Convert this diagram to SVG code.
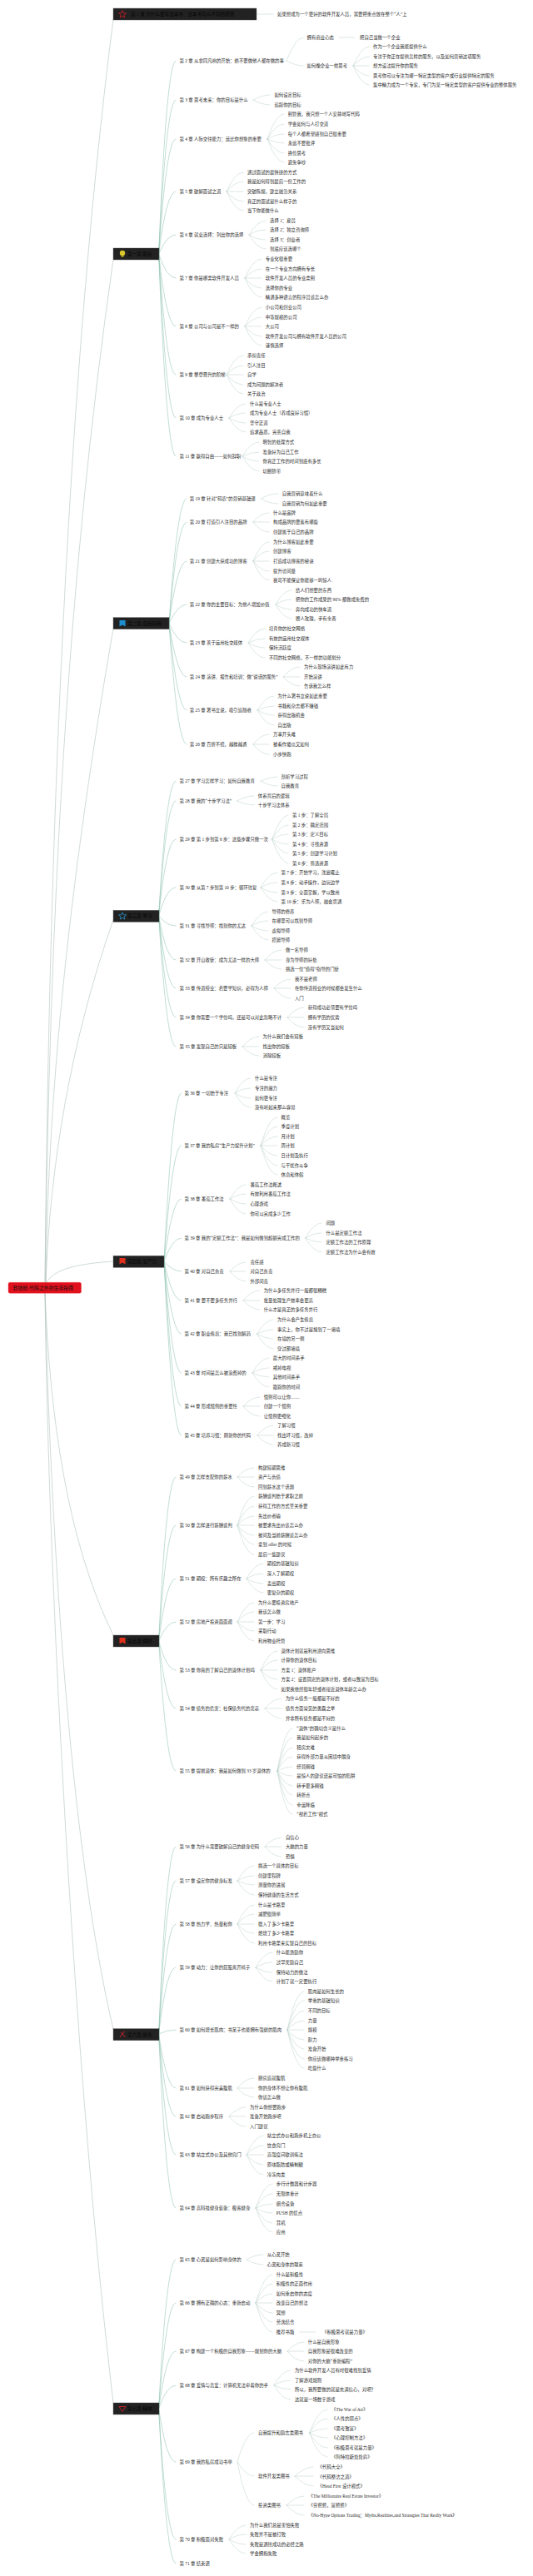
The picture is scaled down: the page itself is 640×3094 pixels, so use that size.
<svg xmlns="http://www.w3.org/2000/svg" width="640" height="3094" viewBox="0 0 640 3094">
<style>
text{font-family:"Liberation Serif","Noto Sans CJK SC",sans-serif;font-size:5.4px;fill:#2a2a2a;dominant-baseline:central}
.l0,.l1,.l2,.l3{fill:none;stroke-linecap:round}
.l0{stroke:#a9bdb8;stroke-width:.55}
.l1{stroke:#8fc2b3;stroke-width:.55}
.l2{stroke:#b4cbc5;stroke-width:.45}
.box{fill:#222;stroke:#555;stroke-width:.4}
.bt{fill:#050505;font-size:5.6px}
.root{fill:#e0101c;stroke:#f04050;stroke-width:.4}
.rt{fill:#111;font-size:5.9px}
</style>
<g id="connectors">
<path class="l0" d="M54 1540C58 1100 75 500 136 23"/>
<path class="l0" d="M54 1540C60 1100 80 700 136 312"/>
<path class="l0" d="M55 1540C58 1300 85 1050 136 755"/>
<path class="l0" d="M55 1540C60 1400 85 1250 136 1105"/>
<path class="l0" d="M56 1540C65 1525 90 1518 136 1515"/>
<path class="l0" d="M54 1553C60 1700 80 1850 136 1964"/>
<path class="l0" d="M54 1553C60 1800 80 2200 136 2437"/>
<path class="l0" d="M54 1553C58 1900 90 2500 136 2886"/>
<path class="l2" d="M308 17H328"/>
<path class="l1" d="M190.600 305Q200 73 211 73"/><path class="l1" d="M190.600 305Q200 120 211 120"/><path class="l1" d="M190.600 305Q200 167 211 167"/><path class="l1" d="M190.600 305Q200 230 211 230"/><path class="l1" d="M190.600 305Q200 282 211 282"/><path class="l1" d="M190.600 305Q200 334 211 334"/><path class="l1" d="M190.600 305Q200 392 211 392"/><path class="l1" d="M190.600 305Q200 450 211 450"/><path class="l1" d="M190.600 305Q200 502 211 502"/><path class="l1" d="M190.600 305Q200 548 211 548"/>
<path class="l2" d="M344 73Q355 45 364 45"/><path class="l2" d="M344 73Q355 79 364 79"/><path class="l2" d="M407 45H426"/>
<path class="l2" d="M424 79Q434 56 443 56"/><path class="l2" d="M424 79Q434 68 443 68"/><path class="l2" d="M424 79H443"/><path class="l2" d="M424 79Q434 91 443 91"/><path class="l2" d="M424 79Q434 102 443 102"/>
<path class="l2" d="M304 120Q315 114 324 114"/><path class="l2" d="M304 120Q315 126 324 126"/>
<path class="l2" d="M321 167Q331 137 341 137"/><path class="l2" d="M321 167Q331 149 341 149"/><path class="l2" d="M321 167Q331 161 341 161"/><path class="l2" d="M321 167Q331 172 341 172"/><path class="l2" d="M321 167Q331 184 341 184"/><path class="l2" d="M321 167Q331 195 341 195"/>
<path class="l2" d="M272 230Q282 207 292 207"/><path class="l2" d="M272 230Q282 218 292 218"/><path class="l2" d="M272 230H292"/><path class="l2" d="M272 230Q282 242 292 242"/><path class="l2" d="M272 230Q282 253 292 253"/>
<path class="l2" d="M299 282Q309 265 319 265"/><path class="l2" d="M299 282Q309 276 319 276"/><path class="l2" d="M299 282Q309 288 319 288"/><path class="l2" d="M299 282Q309 299 319 299"/>
<path class="l2" d="M294 334Q304 311 314 311"/><path class="l2" d="M294 334Q304 323 314 323"/><path class="l2" d="M294 334H314"/><path class="l2" d="M294 334Q304 346 314 346"/><path class="l2" d="M294 334Q304 357 314 357"/>
<path class="l2" d="M294 392Q304 369 314 369"/><path class="l2" d="M294 392Q304 381 314 381"/><path class="l2" d="M294 392H314"/><path class="l2" d="M294 392Q304 404 314 404"/><path class="l2" d="M294 392Q304 415 314 415"/>
<path class="l2" d="M272 450Q282 427 292 427"/><path class="l2" d="M272 450Q282 439 292 439"/><path class="l2" d="M272 450H292"/><path class="l2" d="M272 450Q282 462 292 462"/><path class="l2" d="M272 450Q282 473 292 473"/>
<path class="l2" d="M275 502Q285 485 295 485"/><path class="l2" d="M275 502Q285 496 295 496"/><path class="l2" d="M275 502Q285 508 295 508"/><path class="l2" d="M275 502Q285 519 295 519"/>
<path class="l2" d="M291 548Q301 531 311 531"/><path class="l2" d="M291 548Q301 543 311 543"/><path class="l2" d="M291 548Q301 554 311 554"/><path class="l2" d="M291 548Q301 566 311 566"/>
<path class="l1" d="M203 749Q213 599 224 599"/><path class="l1" d="M203 749Q213 627 224 627"/><path class="l1" d="M203 749Q213 674 224 674"/><path class="l1" d="M203 749Q213 726 224 726"/><path class="l1" d="M203 749Q213 772 224 772"/><path class="l1" d="M203 749Q213 813 224 813"/><path class="l1" d="M203 749Q213 853 224 853"/><path class="l1" d="M203 749Q213 894 224 894"/>
<path class="l2" d="M313.500 599Q323 593 334 593"/><path class="l2" d="M313.500 599Q323 605 334 605"/>
<path class="l2" d="M304 627Q313 616 323 616"/><path class="l2" d="M304 627H323"/><path class="l2" d="M304 627Q313 639 323 639"/>
<path class="l2" d="M304 674Q313 651 323 651"/><path class="l2" d="M304 674Q313 662 323 662"/><path class="l2" d="M304 674H323"/><path class="l2" d="M304 674Q313 686 323 686"/><path class="l2" d="M304 674Q313 697 323 697"/>
<path class="l2" d="M331 726Q340 709 350 709"/><path class="l2" d="M331 726Q340 720 350 720"/><path class="l2" d="M331 726Q340 732 350 732"/><path class="l2" d="M331 726Q340 743 350 743"/>
<path class="l2" d="M298 772Q308 755 318 755"/><path class="l2" d="M298 772Q308 767 318 767"/><path class="l2" d="M298 772Q308 778 318 778"/><path class="l2" d="M298 772Q308 790 318 790"/>
<path class="l2" d="M340 813Q350 801 360 801"/><path class="l2" d="M340 813H360"/><path class="l2" d="M340 813Q350 824 360 824"/>
<path class="l2" d="M309 853Q319 836 329 836"/><path class="l2" d="M309 853Q319 848 329 848"/><path class="l2" d="M309 853Q319 859 329 859"/><path class="l2" d="M309 853Q319 871 329 871"/>
<path class="l2" d="M304 894Q313 882 323 882"/><path class="l2" d="M304 894H323"/><path class="l2" d="M304 894Q313 906 323 906"/>
<path class="l1" d="M190.600 1100Q200 938 211 938"/><path class="l1" d="M190.600 1100Q200 962 211 962"/><path class="l1" d="M190.600 1100Q200 1008 211 1008"/><path class="l1" d="M190.600 1100Q200 1066 211 1066"/><path class="l1" d="M190.600 1100Q200 1112 211 1112"/><path class="l1" d="M190.600 1100Q200 1153 211 1153"/><path class="l1" d="M190.600 1100Q200 1187 211 1187"/><path class="l1" d="M190.600 1100Q200 1222 211 1222"/><path class="l1" d="M190.600 1100Q200 1257 211 1257"/>
<path class="l2" d="M313 938Q323 933 333 933"/><path class="l2" d="M313 938Q323 944 333 944"/>
<path class="l2" d="M284.500 962Q295 956 305 956"/><path class="l2" d="M284.500 962Q295 967 305 967"/>
<path class="l2" d="M326.500 1008Q337 979 346 979"/><path class="l2" d="M326.500 1008Q337 991 346 991"/><path class="l2" d="M326.500 1008Q337 1002 346 1002"/><path class="l2" d="M326.500 1008Q337 1014 346 1014"/><path class="l2" d="M326.500 1008Q337 1025 346 1025"/><path class="l2" d="M326.500 1008Q337 1037 346 1037"/>
<path class="l2" d="M313 1066Q323 1048 333 1048"/><path class="l2" d="M313 1066Q323 1060 333 1060"/><path class="l2" d="M313 1066Q323 1072 333 1072"/><path class="l2" d="M313 1066Q323 1083 333 1083"/>
<path class="l2" d="M302 1112Q312 1095 322 1095"/><path class="l2" d="M302 1112Q312 1106 322 1106"/><path class="l2" d="M302 1112Q312 1118 322 1118"/><path class="l2" d="M302 1112Q312 1129 322 1129"/>
<path class="l2" d="M318 1153Q328 1141 338 1141"/><path class="l2" d="M318 1153H338"/><path class="l2" d="M318 1153Q328 1164 338 1164"/>
<path class="l2" d="M329 1187Q339 1176 349 1176"/><path class="l2" d="M329 1187H349"/><path class="l2" d="M329 1187Q339 1199 349 1199"/>
<path class="l2" d="M345 1222Q355 1210 365 1210"/><path class="l2" d="M345 1222H365"/><path class="l2" d="M345 1222Q355 1234 365 1234"/>
<path class="l2" d="M291 1257Q301 1245 311 1245"/><path class="l2" d="M291 1257H311"/><path class="l2" d="M291 1257Q301 1268 311 1268"/>
<path class="l1" d="M197 1515Q207 1313 217.500 1313"/><path class="l1" d="M197 1515Q207 1376 217.500 1376"/><path class="l1" d="M197 1515Q207 1440 217.500 1440"/><path class="l1" d="M197 1515Q207 1487 217.500 1487"/><path class="l1" d="M197 1515Q207 1527 217.500 1527"/><path class="l1" d="M197 1515Q207 1562 217.500 1562"/><path class="l1" d="M197 1515Q207 1602 217.500 1602"/><path class="l1" d="M197 1515Q207 1649 217.500 1649"/><path class="l1" d="M197 1515Q207 1689 217.500 1689"/><path class="l1" d="M197 1515Q207 1724 217.500 1724"/>
<path class="l2" d="M282 1313Q291 1295 301 1295"/><path class="l2" d="M282 1313Q291 1307 301 1307"/><path class="l2" d="M282 1313Q291 1319 301 1319"/><path class="l2" d="M282 1313Q291 1330 301 1330"/>
<path class="l2" d="M313 1376Q323 1342 333 1342"/><path class="l2" d="M313 1376Q323 1353 333 1353"/><path class="l2" d="M313 1376Q323 1365 333 1365"/><path class="l2" d="M313 1376H333"/><path class="l2" d="M313 1376Q323 1388 333 1388"/><path class="l2" d="M313 1376Q323 1400 333 1400"/><path class="l2" d="M313 1376Q323 1411 333 1411"/>
<path class="l2" d="M276 1440Q286 1423 295 1423"/><path class="l2" d="M276 1440Q286 1434 295 1434"/><path class="l2" d="M276 1440Q286 1446 295 1446"/><path class="l2" d="M276 1440Q286 1458 295 1458"/>
<path class="l2" d="M366.500 1487Q377 1469 386 1469"/><path class="l2" d="M366.500 1487Q377 1481 386 1481"/><path class="l2" d="M366.500 1487Q377 1492 386 1492"/><path class="l2" d="M366.500 1487Q377 1504 386 1504"/>
<path class="l2" d="M276 1527Q286 1516 295 1516"/><path class="l2" d="M276 1527H295"/><path class="l2" d="M276 1527Q286 1539 295 1539"/>
<path class="l2" d="M292 1562Q302 1550 312 1550"/><path class="l2" d="M292 1562H312"/><path class="l2" d="M292 1562Q302 1573 312 1573"/>
<path class="l2" d="M308.600 1602Q319 1585 328 1585"/><path class="l2" d="M308.600 1602Q319 1597 328 1597"/><path class="l2" d="M308.600 1602Q319 1608 328 1608"/><path class="l2" d="M308.600 1602Q319 1620 328 1620"/>
<path class="l2" d="M303 1649Q313 1631 323 1631"/><path class="l2" d="M303 1649Q313 1643 323 1643"/><path class="l2" d="M303 1649Q313 1654 323 1654"/><path class="l2" d="M303 1649Q313 1666 323 1666"/>
<path class="l2" d="M292 1689Q302 1678 312 1678"/><path class="l2" d="M292 1689H312"/><path class="l2" d="M292 1689Q302 1701 312 1701"/>
<path class="l2" d="M308.600 1724Q319 1712 328 1712"/><path class="l2" d="M308.600 1724H328"/><path class="l2" d="M308.600 1724Q319 1735 328 1735"/>
<path class="l1" d="M190.600 1971Q200 1774 211 1774"/><path class="l1" d="M190.600 1971Q200 1832 211 1832"/><path class="l1" d="M190.600 1971Q200 1896 211 1896"/><path class="l1" d="M190.600 1971Q200 1948 211 1948"/><path class="l1" d="M190.600 1971Q200 2006 211 2006"/><path class="l1" d="M190.600 1971Q200 2052 211 2052"/><path class="l1" d="M190.600 1971Q200 2127 211 2127"/>
<path class="l2" d="M285 1774Q295 1763 305 1763"/><path class="l2" d="M285 1774H305"/><path class="l2" d="M285 1774Q295 1786 305 1786"/>
<path class="l2" d="M285 1832Q295 1797 305 1797"/><path class="l2" d="M285 1832Q295 1809 305 1809"/><path class="l2" d="M285 1832Q295 1821 305 1821"/><path class="l2" d="M285 1832H305"/><path class="l2" d="M285 1832Q295 1844 305 1844"/><path class="l2" d="M285 1832Q295 1855 305 1855"/><path class="l2" d="M285 1832Q295 1867 305 1867"/>
<path class="l2" d="M296 1896Q306 1878 316 1878"/><path class="l2" d="M296 1896Q306 1890 316 1890"/><path class="l2" d="M296 1896Q306 1902 316 1902"/><path class="l2" d="M296 1896Q306 1913 316 1913"/>
<path class="l2" d="M285 1948Q295 1925 305 1925"/><path class="l2" d="M285 1948Q295 1936 305 1936"/><path class="l2" d="M285 1948H305"/><path class="l2" d="M285 1948Q295 1959 305 1959"/><path class="l2" d="M285 1948Q295 1971 305 1971"/>
<path class="l2" d="M313 2006Q323 1983 333 1983"/><path class="l2" d="M313 2006Q323 1994 333 1994"/><path class="l2" d="M313 2006H333"/><path class="l2" d="M313 2006Q323 2017 333 2017"/><path class="l2" d="M313 2006Q323 2029 333 2029"/>
<path class="l2" d="M318 2052Q328 2040 338 2040"/><path class="l2" d="M318 2052H338"/><path class="l2" d="M318 2052Q328 2064 338 2064"/>
<path class="l2" d="M333 2127Q342 2076 351 2076"/><path class="l2" d="M333 2127Q342 2087 351 2087"/><path class="l2" d="M333 2127Q342 2099 351 2099"/><path class="l2" d="M333 2127Q342 2110 351 2110"/><path class="l2" d="M333 2127Q342 2122 351 2122"/><path class="l2" d="M333 2127Q342 2133 351 2133"/><path class="l2" d="M333 2127Q342 2145 351 2145"/><path class="l2" d="M333 2127Q342 2156 351 2156"/><path class="l2" d="M333 2127Q342 2168 351 2168"/><path class="l2" d="M333 2127Q342 2179 351 2179"/>
<path class="l1" d="M190.600 2443Q200 2218 211 2218"/><path class="l1" d="M190.600 2443Q200 2259 211 2259"/><path class="l1" d="M190.600 2443Q200 2311 211 2311"/><path class="l1" d="M190.600 2443Q200 2363 211 2363"/><path class="l1" d="M190.600 2443Q200 2438 211 2438"/><path class="l1" d="M190.600 2443Q200 2508 211 2508"/><path class="l1" d="M190.600 2443Q200 2542 211 2542"/><path class="l1" d="M190.600 2443Q200 2588 211 2588"/><path class="l1" d="M190.600 2443Q200 2652 211 2652"/>
<path class="l2" d="M318 2218Q328 2207 338 2207"/><path class="l2" d="M318 2218H338"/><path class="l2" d="M318 2218Q328 2230 338 2230"/>
<path class="l2" d="M285 2259Q295 2241 305 2241"/><path class="l2" d="M285 2259Q295 2253 305 2253"/><path class="l2" d="M285 2259Q295 2264 305 2264"/><path class="l2" d="M285 2259Q295 2276 305 2276"/>
<path class="l2" d="M285 2311Q295 2288 305 2288"/><path class="l2" d="M285 2311Q295 2299 305 2299"/><path class="l2" d="M285 2311H305"/><path class="l2" d="M285 2311Q295 2322 305 2322"/><path class="l2" d="M285 2311Q295 2334 305 2334"/>
<path class="l2" d="M307 2363Q317 2345 327 2345"/><path class="l2" d="M307 2363Q317 2357 327 2357"/><path class="l2" d="M307 2363Q317 2369 327 2369"/><path class="l2" d="M307 2363Q317 2380 327 2380"/>
<path class="l2" d="M345 2438Q355 2392 365 2392"/><path class="l2" d="M345 2438Q355 2403 365 2403"/><path class="l2" d="M345 2438Q355 2415 365 2415"/><path class="l2" d="M345 2438Q355 2427 365 2427"/><path class="l2" d="M345 2438H365"/><path class="l2" d="M345 2438Q355 2450 365 2450"/><path class="l2" d="M345 2438Q355 2461 365 2461"/><path class="l2" d="M345 2438Q355 2473 365 2473"/><path class="l2" d="M345 2438Q355 2484 365 2484"/>
<path class="l2" d="M285 2508Q295 2496 305 2496"/><path class="l2" d="M285 2508H305"/><path class="l2" d="M285 2508Q295 2519 305 2519"/>
<path class="l2" d="M275 2542Q285 2531 295 2531"/><path class="l2" d="M275 2542H295"/><path class="l2" d="M275 2542Q285 2554 295 2554"/>
<path class="l2" d="M296 2588Q306 2565 316 2565"/><path class="l2" d="M296 2588Q306 2577 316 2577"/><path class="l2" d="M296 2588H316"/><path class="l2" d="M296 2588Q306 2600 316 2600"/><path class="l2" d="M296 2588Q306 2612 316 2612"/>
<path class="l2" d="M307 2652Q317 2623 327 2623"/><path class="l2" d="M307 2652Q317 2635 327 2635"/><path class="l2" d="M307 2652Q317 2647 327 2647"/><path class="l2" d="M307 2652Q317 2658 327 2658"/><path class="l2" d="M307 2652Q317 2670 327 2670"/><path class="l2" d="M307 2652Q317 2681 327 2681"/>
<path class="l1" d="M190.600 2893Q200 2714 211 2714"/><path class="l1" d="M190.600 2893Q200 2766 211 2766"/><path class="l1" d="M190.600 2893Q200 2824 211 2824"/><path class="l1" d="M190.600 2893Q200 2865 211 2865"/><path class="l1" d="M190.600 2893Q200 2957 211 2957"/><path class="l1" d="M190.600 2893Q200 3050 211 3050"/><path class="l1" d="M190.600 2893Q200 3079 211 3079"/>
<path class="l2" d="M296 2714Q306 2708 316 2708"/><path class="l2" d="M296 2714Q306 2720 316 2720"/>
<path class="l2" d="M307 2766Q317 2732 327 2732"/><path class="l2" d="M307 2766Q317 2743 327 2743"/><path class="l2" d="M307 2766Q317 2755 327 2755"/><path class="l2" d="M307 2766H327"/><path class="l2" d="M307 2766Q317 2778 327 2778"/><path class="l2" d="M307 2766Q317 2789 327 2789"/><path class="l2" d="M307 2766Q317 2801 327 2801"/><path class="l2" d="M360 2801H379"/>
<path class="l2" d="M345 2824Q355 2813 365 2813"/><path class="l2" d="M345 2824H365"/><path class="l2" d="M345 2824Q355 2836 365 2836"/>
<path class="l2" d="M329 2865Q339 2847 349 2847"/><path class="l2" d="M329 2865Q339 2859 349 2859"/><path class="l2" d="M329 2865Q339 2870 349 2870"/><path class="l2" d="M329 2865Q339 2882 349 2882"/>
<path class="l2" d="M285 2957Q295 2922 305 2922"/><path class="l2" d="M285 2957Q295 2974 305 2974"/><path class="l2" d="M285 2957Q295 3009 305 3009"/>
<path class="l2" d="M371.500 2922Q382 2894 393 2894"/><path class="l2" d="M371.500 2922Q382 2905 393 2905"/><path class="l2" d="M371.500 2922Q382 2917 393 2917"/><path class="l2" d="M371.500 2922Q382 2928 393 2928"/><path class="l2" d="M371.500 2922Q382 2940 393 2940"/><path class="l2" d="M371.500 2922Q382 2951 393 2951"/>
<path class="l2" d="M354 2974Q366 2963 376 2963"/><path class="l2" d="M354 2974H376"/><path class="l2" d="M354 2974Q366 2986 376 2986"/>
<path class="l2" d="M344 3009Q355 2998 365 2998"/><path class="l2" d="M344 3009H365"/><path class="l2" d="M344 3009Q355 3021 365 3021"/>
<path class="l2" d="M275 3050Q285 3033 295 3033"/><path class="l2" d="M275 3050Q285 3044 295 3044"/><path class="l2" d="M275 3050Q285 3056 295 3056"/><path class="l2" d="M275 3050Q285 3067 295 3067"/>
</g>
<g id="root"><rect class="root" x="10" y="1540.300" width="87.500" height="13" rx="2"/><text class="rt" x="15.500" y="1547">软技能-代码之外的生存指南</text></g>
<g id="s0"><rect class="box" x="136" y="10" width="172" height="14"/><polygon points="147,12.500 148.200,15.600 151.500,15.800 149,17.900 149.800,21 147,19.300 144.200,21 145,17.900 142.500,15.800 145.800,15.600" fill="none" stroke="#c8202a" stroke-width=".8"/><text class="bt" x="157" y="17">第 1 章 为什么要写这本书：这本书与众不同的原因</text></g>
<g id="s1"><rect class="box" x="136" y="298" width="55" height="14"/><circle cx="147" cy="304" r="3.200" fill="#d8c62a"/><rect x="145.600" y="307" width="2.800" height="1.800" fill="#b0a020"/><text class="bt" x="153" y="305">第一篇 职业</text></g>
<g id="s2"><rect class="box" x="136" y="741.700" width="67" height="14"/><path d="M143.500 745H150.500V752.500L147 750.500 143.500 752.500Z" fill="#1c8fd0"/><text class="bt" x="153" y="749">第二篇 自我营销</text></g>
<g id="s3"><rect class="box" x="136" y="1093.300" width="55" height="14"/><polygon points="147,1095.700 148.200,1098.700 151.500,1098.900 149,1101 149.800,1104.100 147,1102.400 144.200,1104.100 145,1101 142.500,1098.900 145.800,1098.700" fill="none" stroke="#2a90c8" stroke-width=".8"/><text class="bt" x="153" y="1100">第三篇 学习</text></g>
<g id="s4"><rect class="box" x="136" y="1508.300" width="61" height="14"/><path d="M143.500 1511H150.500V1518.500L147 1516.500 143.500 1518.500Z" fill="#e0301c"/><text class="bt" x="153" y="1515">第四篇 生产力</text></g>
<g id="s5"><rect class="box" x="136" y="1964" width="55" height="14"/><path d="M143.500 1967H150.500V1974.500L147 1972.500 143.500 1974.500Z" fill="#e0301c"/><text class="bt" x="153" y="1971">第五篇 理财</text></g>
<g id="s6"><rect class="box" x="136" y="2436.700" width="55" height="14"/><path d="M149.500 2439.500L144 2447M145 2440.500L150.500 2447" stroke="#c8202a" stroke-width="1" fill="none"/><text class="bt" x="153" y="2443.700">第六篇 健身</text></g>
<g id="s7"><rect class="box" x="136" y="2886" width="55" height="14"/><path d="M143 2890.500H151L147 2896.500Z" fill="none" stroke="#c8202a" stroke-width=".9"/><text class="bt" x="153" y="2893">第七篇 精神</text></g>
<g id="n1"><text x="333" y="17">如果想成为一个更好的软件开发人员，需要把重点放在整个“人”上</text></g>
<g id="c2"><text x="215.500" y="73">第 2 章 从非同凡响的开始：绝不要做他人都在做的事</text></g>
<g id="n2a"><text x="368.600" y="45">拥有商业心态</text></g><g id="n2a1"><text x="432" y="45">把自己当做一个企业</text></g>
<g id="n2b"><text x="368.600" y="79">如何像企业一样思考</text></g>
<g id="n2b1"><text x="448" y="56">作为一个企业我能提供什么</text></g><g id="n2b2"><text x="448" y="68">专注于你正在提供怎样的服务，以及如何营销这项服务</text></g><g id="n2b3"><text x="448" y="79">想方设法提升你的服务</text></g><g id="n2b4"><text x="448" y="91">思考你可以专注为哪一特定类型的客户或行业提供特定的服务</text></g><g id="n2b5"><text x="448" y="102">集中精力成为一个专家，专门为某一特定类型的客户提供专业的整体服务</text></g>
<g id="c3"><text x="215.500" y="120">第 3 章 思考未来：你的目标是什么</text></g>
<g id="n3a"><text x="329.400" y="114">如何设定目标</text></g><g id="n3b"><text x="329.400" y="126">追踪你的目标</text></g>
<g id="c4"><text x="215.500" y="167">第 4 章 人际交往能力：远比你想象的重要</text></g>
<g id="n4a"><text x="345.700" y="137">别管我，我只想一个人安静地写代码</text></g><g id="n4b"><text x="345.700" y="149">学会如何与人打交道</text></g><g id="n4c"><text x="345.700" y="161">每个人都希望感到自己很重要</text></g><g id="n4d"><text x="345.700" y="172">永远不要批评</text></g><g id="n4e"><text x="345.700" y="184">换位思考</text></g><g id="n4f"><text x="345.700" y="195">避免争吵</text></g>
<g id="c5"><text x="215.500" y="230">第 5 章 破解面试之道</text></g>
<g id="n5a"><text x="297" y="207">通过面试的最快捷的方式</text></g><g id="n5b"><text x="297" y="218">我是如何得到最后一份工作的</text></g><g id="n5c"><text x="297" y="230">突破陈规，建立融洽关系</text></g><g id="n5d"><text x="297" y="242">真正的面试是什么样子的</text></g><g id="n5e"><text x="297" y="253">当下你能做什么</text></g>
<g id="c6"><text x="215.500" y="282">第 6 章 就业选择：列出你的选择</text></g>
<g id="n6a"><text x="324" y="265">选择 1：雇员</text></g><g id="n6b"><text x="324" y="276">选择 2：独立咨询师</text></g><g id="n6c"><text x="324" y="288">选择 3：创业者</text></g><g id="n6d"><text x="324" y="299">到底应该选哪个</text></g>
<g id="c7"><text x="215.500" y="334">第 7 章 你是哪类软件开发人员</text></g>
<g id="n7a"><text x="318.800" y="311">专业化很重要</text></g><g id="n7b"><text x="318.800" y="323">在一个专业方向拥有专长</text></g><g id="n7c"><text x="318.800" y="334">软件开发人员的专业类别</text></g><g id="n7d"><text x="318.800" y="346">选择你的专业</text></g><g id="n7e"><text x="318.800" y="357">精通多种语言的程序员该怎么办</text></g>
<g id="c8"><text x="215.500" y="392">第 8 章 公司与公司是不一样的</text></g>
<g id="n8a"><text x="318.800" y="369">小公司和创业公司</text></g><g id="n8b"><text x="318.800" y="381">中等规模的公司</text></g><g id="n8c"><text x="318.800" y="392">大公司</text></g><g id="n8d"><text x="318.800" y="404">软件开发公司与拥有软件开发人员的公司</text></g><g id="n8e"><text x="318.800" y="415">谨慎选择</text></g>
<g id="c9"><text x="215.500" y="450">第 9 章 攀登晋升的阶梯</text></g>
<g id="n9a"><text x="297" y="427">承担责任</text></g><g id="n9b"><text x="297" y="439">引人注目</text></g><g id="n9c"><text x="297" y="450">自学</text></g><g id="n9d"><text x="297" y="462">成为问题的解决者</text></g><g id="n9e"><text x="297" y="473">关于政治</text></g>
<g id="c10"><text x="215.500" y="502">第 10 章 成为专业人士</text></g>
<g id="n10a"><text x="300" y="485">什么是专业人士</text></g><g id="n10b"><text x="300" y="496">成为专业人士（养成良好习惯）</text></g><g id="n10c"><text x="300" y="508">坚守正道</text></g><g id="n10d"><text x="300" y="519">追求品质，完善自我</text></g>
<g id="c11"><text x="215.500" y="548">第 11 章 赢得自由——如何辞职</text></g>
<g id="n11a"><text x="315.500" y="531">明智的处理方式</text></g><g id="n11b"><text x="315.500" y="543">准备好为自己工作</text></g><g id="n11c"><text x="315.500" y="554">你真正工作的时间到底有多长</text></g><g id="n11d"><text x="315.500" y="566">切断脐带</text></g>
<g id="c19"><text x="227.800" y="599">第 19 章 针对“码农”的营销基础课</text></g>
<g id="n19a"><text x="338.800" y="593">自我营销意味着什么</text></g><g id="n19b"><text x="338.800" y="605">自我营销为何如此重要</text></g>
<g id="c20"><text x="227.800" y="627">第 20 章 打造引人注目的品牌</text></g>
<g id="n20a"><text x="328" y="616">什么是品牌</text></g><g id="n20b"><text x="328" y="627">构成品牌的要素有哪些</text></g><g id="n20c"><text x="328" y="639">创建属于自己的品牌</text></g>
<g id="c21"><text x="227.800" y="674">第 21 章 创建大获成功的博客</text></g>
<g id="n21a"><text x="328" y="651">为什么博客如此重要</text></g><g id="n21b"><text x="328" y="662">创建博客</text></g><g id="n21c"><text x="328" y="674">打造成功博客的秘诀</text></g><g id="n21d"><text x="328" y="686">提升访问量</text></g><g id="n21e"><text x="328" y="697">我可不能保证你能够一鸣惊人</text></g>
<g id="c22"><text x="227.800" y="726">第 22 章 你的主要目标：为他人增加价值</text></g>
<g id="n22a"><text x="355" y="709">给人们想要的东西</text></g><g id="n22b"><text x="355" y="720">把你的工作成果的 90% 都做成免费的</text></g><g id="n22c"><text x="355" y="732">奔向成功的快车道</text></g><g id="n22d"><text x="355" y="743">赠人玫瑰，手有余香</text></g>
<g id="c23"><text x="227.800" y="772">第 23 章 善于运用社交媒体</text></g>
<g id="n23a"><text x="322.900" y="755">培育你的社交网络</text></g><g id="n23b"><text x="322.900" y="767">有效的运用社交媒体</text></g><g id="n23c"><text x="322.900" y="778">保持活跃度</text></g><g id="n23d"><text x="322.900" y="790">不同的社交网络，不一样的功能划分</text></g>
<g id="c24"><text x="227.800" y="813">第 24 章 演讲、报告和培训：做“说话的服务”</text></g>
<g id="n24a"><text x="365" y="801">为什么现场演讲如此有力</text></g><g id="n24b"><text x="365" y="813">开始演讲</text></g><g id="n24c"><text x="365" y="824">告诉我怎么样</text></g>
<g id="c25"><text x="227.800" y="853">第 25 章 著书立说，吸引追随者</text></g>
<g id="n25a"><text x="333.500" y="836">为什么著书立说如此重要</text></g><g id="n25b"><text x="333.500" y="848">书籍和杂志都不赚钱</text></g><g id="n25c"><text x="333.500" y="859">获得出版机会</text></g><g id="n25d"><text x="333.500" y="871">自出版</text></g>
<g id="c26"><text x="227.800" y="894">第 26 章 百折不挠，越挫越勇</text></g>
<g id="n26a"><text x="328" y="882">万事开头难</text></g><g id="n26b"><text x="328" y="894">被看作傻瓜又如何</text></g><g id="n26c"><text x="328" y="906">小步快跑</text></g>
<g id="c27"><text x="215.500" y="938">第 27 章 学习怎样学习：如何自我教育</text></g>
<g id="n27a"><text x="337.500" y="933">剖析学习过程</text></g><g id="n27b"><text x="337.500" y="944">自我教育</text></g>
<g id="c28"><text x="215.500" y="962">第 28 章 我的“十步学习法”</text></g>
<g id="n28a"><text x="309.800" y="956">体系背后的逻辑</text></g><g id="n28b"><text x="309.800" y="967">十步学习法体系</text></g>
<g id="c29"><text x="215.500" y="1008">第 29 章 第 1 步到第 6 步：这些步骤只做一次</text></g>
<g id="n29a"><text x="351" y="979">第 1 步：了解全局</text></g><g id="n29b"><text x="351" y="991">第 2 步：确定范围</text></g><g id="n29c"><text x="351" y="1002">第 3 步：定义目标</text></g><g id="n29d"><text x="351" y="1014">第 4 步：寻找资源</text></g><g id="n29e"><text x="351" y="1025">第 5 步：创建学习计划</text></g><g id="n29f"><text x="351" y="1037">第 6 步：筛选资源</text></g>
<g id="c30"><text x="215.500" y="1066">第 30 章 从第 7 步到第 10 步：循环往复</text></g>
<g id="n30a"><text x="337.500" y="1048">第 7 步：开始学习，浅尝辄止</text></g><g id="n30b"><text x="337.500" y="1060">第 8 步：动手操作，边玩边学</text></g><g id="n30c"><text x="337.500" y="1072">第 9 步：全面掌握，学以致用</text></g><g id="n30d"><text x="337.500" y="1083">第 10 步：乐为人师，融会贯通</text></g>
<g id="c31"><text x="215.500" y="1112">第 31 章 寻找导师：找到你的尤达</text></g>
<g id="n31a"><text x="326.500" y="1095">导师的修养</text></g><g id="n31b"><text x="326.500" y="1106">在哪里可以找到导师</text></g><g id="n31c"><text x="326.500" y="1118">虚拟导师</text></g><g id="n31d"><text x="326.500" y="1129">招募导师</text></g>
<g id="c32"><text x="215.500" y="1153">第 32 章 开山收徒：成为尤达一样的大师</text></g>
<g id="n32a"><text x="342.900" y="1141">做一名导师</text></g><g id="n32b"><text x="342.900" y="1153">身为导师的好处</text></g><g id="n32c"><text x="342.900" y="1164">挑选一位“值得”指导的门徒</text></g>
<g id="c33"><text x="215.500" y="1187">第 33 章 传道授业：若要学知识，必得为人师</text></g>
<g id="n33a"><text x="353.900" y="1176">我不是老师</text></g><g id="n33b"><text x="353.900" y="1187">在你传道授业的时候都会发生什么</text></g><g id="n33c"><text x="353.900" y="1199">入门</text></g>
<g id="c34"><text x="215.500" y="1222">第 34 章 你需要一个学位吗，还是可以对此忽略不计</text></g>
<g id="n34a"><text x="369.800" y="1210">获得成功必须要有学位吗</text></g><g id="n34b"><text x="369.800" y="1222">拥有学历的优势</text></g><g id="n34c"><text x="369.800" y="1234">没有学历又当如何</text></g>
<g id="c35"><text x="215.500" y="1257">第 35 章 发现自己的只是短板</text></g>
<g id="n35a"><text x="315.500" y="1245">为什么我们会有短板</text></g><g id="n35b"><text x="315.500" y="1257">找出你的短板</text></g><g id="n35c"><text x="315.500" y="1268">消除短板</text></g>
<g id="c36"><text x="221.600" y="1313">第 36 章 一切始于专注</text></g>
<g id="n36a"><text x="306" y="1295">什么是专注</text></g><g id="n36b"><text x="306" y="1307">专注的魔力</text></g><g id="n36c"><text x="306" y="1319">如何更专注</text></g><g id="n36d"><text x="306" y="1330">没有听起来那么容易</text></g>
<g id="c37"><text x="221.600" y="1376">第 37 章 我的私房“生产力提升计划”</text></g>
<g id="n37a"><text x="337.500" y="1342">概览</text></g><g id="n37b"><text x="337.500" y="1353">季度计划</text></g><g id="n37c"><text x="337.500" y="1365">月计划</text></g><g id="n37d"><text x="337.500" y="1376">周计划</text></g><g id="n37e"><text x="337.500" y="1388">日计划及执行</text></g><g id="n37f"><text x="337.500" y="1400">与干扰作斗争</text></g><g id="n37g"><text x="337.500" y="1411">休息和休假</text></g>
<g id="c38"><text x="221.600" y="1440">第 38 章 番茄工作法</text></g>
<g id="n38a"><text x="300.400" y="1423">番茄工作法概述</text></g><g id="n38b"><text x="300.400" y="1434">有效利用番茄工作法</text></g><g id="n38c"><text x="300.400" y="1446">心理游戏</text></g><g id="n38d"><text x="300.400" y="1458">你可以完成多少工作</text></g>
<g id="c39"><text x="221.600" y="1487">第 39 章 我的“定额工作法”：我是如何做到超额完成工作的</text></g>
<g id="n39a"><text x="391.400" y="1469">问题</text></g><g id="n39b"><text x="391.400" y="1481">什么是定额工作法</text></g><g id="n39c"><text x="391.400" y="1492">定额工作法的工作原理</text></g><g id="n39d"><text x="391.400" y="1504">定额工作法为什么会有效</text></g>
<g id="c40"><text x="221.600" y="1527">第 40 章 对自己负责</text></g>
<g id="n40a"><text x="300.400" y="1516">责任感</text></g><g id="n40b"><text x="300.400" y="1527">对自己负责</text></g><g id="n40c"><text x="300.400" y="1539">外部问责</text></g>
<g id="c41"><text x="221.600" y="1562">第 41 章 要不要多任务并行</text></g>
<g id="n41a"><text x="316.700" y="1550">为什么多任务并行一般都很糟糕</text></g><g id="n41b"><text x="316.700" y="1562">批量处理生产效率会更高</text></g><g id="n41c"><text x="316.700" y="1573">什么才是真正的多任务并行</text></g>
<g id="c42"><text x="221.600" y="1602">第 42 章 职业倦怠：我已找到解药</text></g>
<g id="n42a"><text x="333" y="1585">为什么会产生倦怠</text></g><g id="n42b"><text x="333" y="1597">事实上，你不过是撞到了一堵墙</text></g><g id="n42c"><text x="333" y="1608">在墙的另一侧</text></g><g id="n42d"><text x="333" y="1620">穿过那堵墙</text></g>
<g id="c43"><text x="221.600" y="1649">第 43 章 时间是怎么被浪费掉的</text></g>
<g id="n43a"><text x="327.800" y="1631">最大的时间杀手</text></g><g id="n43b"><text x="327.800" y="1643">戒掉电视</text></g><g id="n43c"><text x="327.800" y="1654">其他时间杀手</text></g><g id="n43d"><text x="327.800" y="1666">跟踪你的时间</text></g>
<g id="c44"><text x="221.600" y="1689">第 44 章 形成惯例的重要性</text></g>
<g id="n44a"><text x="316.700" y="1678">惯例可以让你……</text></g><g id="n44b"><text x="316.700" y="1689">创建一个惯例</text></g><g id="n44c"><text x="316.700" y="1701">让惯例更细化</text></g>
<g id="c45"><text x="221.600" y="1724">第 45 章 培养习惯：刷新你的代码</text></g>
<g id="n45a"><text x="333" y="1712">了解习惯</text></g><g id="n45b"><text x="333" y="1724">找出坏习惯，改掉</text></g><g id="n45c"><text x="333" y="1735">养成新习惯</text></g>
<g id="c49"><text x="215.500" y="1774">第 49 章 怎样支配你的薪水</text></g>
<g id="n49a"><text x="310" y="1763">构建短期思维</text></g><g id="n49b"><text x="310" y="1774">资产与负债</text></g><g id="n49c"><text x="310" y="1786">回到薪水这个话题</text></g>
<g id="c50"><text x="215.500" y="1832">第 50 章 怎样进行薪酬谈判</text></g>
<g id="n50a"><text x="310" y="1797">薪酬谈判始于求职之前</text></g><g id="n50b"><text x="310" y="1809">获得工作的方式至关重要</text></g><g id="n50c"><text x="310" y="1821">先出价者输</text></g><g id="n50d"><text x="310" y="1832">被要求先出价该怎么办</text></g><g id="n50e"><text x="310" y="1844">被问及当前薪酬该怎么办</text></g><g id="n50f"><text x="310" y="1855">拿到 offer 的时候</text></g><g id="n50g"><text x="310" y="1867">最后一些建议</text></g>
<g id="c51"><text x="215.500" y="1896">第 51 章 期权：所有乐趣之所在</text></g>
<g id="n51a"><text x="320.800" y="1878">期权的基础知识</text></g><g id="n51b"><text x="320.800" y="1890">深入了解期权</text></g><g id="n51c"><text x="320.800" y="1902">卖出期权</text></g><g id="n51d"><text x="320.800" y="1913">更复杂的期权</text></g>
<g id="c52"><text x="215.500" y="1948">第 52 章 房地产投资面面观</text></g>
<g id="n52a"><text x="310" y="1925">为什么要投资房地产</text></g><g id="n52b"><text x="310" y="1936">我该怎么做</text></g><g id="n52c"><text x="310" y="1948">第一步：学习</text></g><g id="n52d"><text x="310" y="1959">采取行动</text></g><g id="n52e"><text x="310" y="1971">利用物业托管</text></g>
<g id="c53"><text x="215.500" y="2006">第 53 章 你真的了解自己的退休计划吗</text></g>
<g id="n53a"><text x="337.500" y="1983">退休计划就是利用逆向思维</text></g><g id="n53b"><text x="337.500" y="1994">计算你的退休目标</text></g><g id="n53c"><text x="337.500" y="2006">方案 1：退休账户</text></g><g id="n53d"><text x="337.500" y="2017">方案 2：设置固定的退休计划，或者以致富为目标</text></g><g id="n53e"><text x="337.500" y="2029">如果我依然很年轻或者接近退休年龄怎么办</text></g>
<g id="c54"><text x="215.500" y="2052">第 54 章 债务的危害：社保债务代的悲哀</text></g>
<g id="n54a"><text x="342.900" y="2040">为什么债务一般都是不好的</text></g><g id="n54b"><text x="342.900" y="2052">债务方面常见的愚蠢之举</text></g><g id="n54c"><text x="342.900" y="2064">并非所有债务都是不好的</text></g>
<g id="c55"><text x="215.500" y="2127">第 55 章 提前退休：我是如何做到 33 岁退休的</text></g>
<g id="n55a"><text x="356.300" y="2076">“退休”的确切含义是什么</text></g><g id="n55b"><text x="356.300" y="2087">我是如何起步的</text></g><g id="n55c"><text x="356.300" y="2099">租房灾难</text></g><g id="n55d"><text x="356.300" y="2110">获得外部力量从困境中脱身</text></g><g id="n55e"><text x="356.300" y="2122">经营圈钱</text></g><g id="n55f"><text x="356.300" y="2133">是惊人的建议还是可怕的陷阱</text></g><g id="n55g"><text x="356.300" y="2145">转手更多圈钱</text></g><g id="n55h"><text x="356.300" y="2156">转折点</text></g><g id="n55i"><text x="356.300" y="2168">幸运降临</text></g><g id="n55j"><text x="356.300" y="2179">“视若工作”模式</text></g>
<g id="c56"><text x="215.500" y="2218">第 56 章 为什么需要破解自己的健身密码</text></g>
<g id="n56a"><text x="342.900" y="2207">自信心</text></g><g id="n56b"><text x="342.900" y="2218">大脑的力量</text></g><g id="n56c"><text x="342.900" y="2230">恐惧</text></g>
<g id="c57"><text x="215.500" y="2259">第 57 章 设定你的健身标准</text></g>
<g id="n57a"><text x="310" y="2241">挑选一个具体的目标</text></g><g id="n57b"><text x="310" y="2253">创建里程碑</text></g><g id="n57c"><text x="310" y="2264">测量你的进展</text></g><g id="n57d"><text x="310" y="2276">保持健康的生活方式</text></g>
<g id="c58"><text x="215.500" y="2311">第 58 章 热力学、热量和你</text></g>
<g id="n58a"><text x="310" y="2288">什么是卡路里</text></g><g id="n58b"><text x="310" y="2299">减肥很简单</text></g><g id="n58c"><text x="310" y="2311">摄入了多少卡路里</text></g><g id="n58d"><text x="310" y="2322">燃烧了多少卡路里</text></g><g id="n58e"><text x="310" y="2334">利用卡路里来实现自己的目标</text></g>
<g id="c59"><text x="215.500" y="2363">第 59 章 动力：让你的屁股离开椅子</text></g>
<g id="n59a"><text x="331.800" y="2345">什么能激励你</text></g><g id="n59b"><text x="331.800" y="2357">过早奖励自己</text></g><g id="n59c"><text x="331.800" y="2369">保持动力的做法</text></g><g id="n59d"><text x="331.800" y="2380">计划了就一定要执行</text></g>
<g id="c60"><text x="215.500" y="2438">第 60 章 如何增长肌肉：书呆子也能拥有强健的肌肉</text></g>
<g id="n60a"><text x="369.800" y="2392">肌肉是如何生长的</text></g><g id="n60b"><text x="369.800" y="2403">举重的基础知识</text></g><g id="n60c"><text x="369.800" y="2415">不同的目标</text></g><g id="n60d"><text x="369.800" y="2427">力量</text></g><g id="n60e"><text x="369.800" y="2438">规模</text></g><g id="n60f"><text x="369.800" y="2450">耐力</text></g><g id="n60g"><text x="369.800" y="2461">准备开始</text></g><g id="n60h"><text x="369.800" y="2473">你应该做哪种举重练习</text></g><g id="n60i"><text x="369.800" y="2484">吃些什么</text></g>
<g id="c61"><text x="215.500" y="2508">第 61 章 如何获得完美腹肌</text></g>
<g id="n61a"><text x="310" y="2496">厨房造就腹肌</text></g><g id="n61b"><text x="310" y="2508">你的身体不想让你有腹肌</text></g><g id="n61c"><text x="310" y="2519">你该怎么做</text></g>
<g id="c62"><text x="215.500" y="2542">第 62 章 启动跑步程序</text></g>
<g id="n62a"><text x="300" y="2531">为什么你想要跑步</text></g><g id="n62b"><text x="300" y="2542">准备开始跑步吧</text></g><g id="n62c"><text x="300" y="2554">入门建议</text></g>
<g id="c63"><text x="215.500" y="2588">第 63 章 站立式办公及其他窍门</text></g>
<g id="n63a"><text x="320.800" y="2565">站立式办公和跑步机上办公</text></g><g id="n63b"><text x="320.800" y="2577">饮食窍门</text></g><g id="n63c"><text x="320.800" y="2588">高强度间歇训练法</text></g><g id="n63d"><text x="320.800" y="2600">原味脂肪或精制糖</text></g><g id="n63e"><text x="320.800" y="2612">冷冻肉类</text></g>
<g id="c64"><text x="215.500" y="2652">第 64 章 高科技健身装备：极客健身</text></g>
<g id="n64a"><text x="331.800" y="2623">步行计数器和计步器</text></g><g id="n64b"><text x="331.800" y="2635">无限体重计</text></g><g id="n64c"><text x="331.800" y="2647">组合设备</text></g><g id="n64d"><text x="331.800" y="2658">PUSH 的优点</text></g><g id="n64e"><text x="331.800" y="2670">耳机</text></g><g id="n64f"><text x="331.800" y="2681">应用</text></g>
<g id="c65"><text x="215.500" y="2714">第 65 章 心灵是如何影响身体的</text></g>
<g id="n65a"><text x="320.800" y="2708">从心灵开始</text></g><g id="n65b"><text x="320.800" y="2720">心灵和身体的联系</text></g>
<g id="c66"><text x="215.500" y="2766">第 66 章 拥有正确的心态：重新启动</text></g>
<g id="n66a"><text x="331.800" y="2732">什么是积极性</text></g><g id="n66b"><text x="331.800" y="2743">积极性的正面作用</text></g><g id="n66c"><text x="331.800" y="2755">如何重启你的态度</text></g><g id="n66d"><text x="331.800" y="2766">改变自己的想法</text></g><g id="n66e"><text x="331.800" y="2778">冥想</text></g><g id="n66f"><text x="331.800" y="2789">劳逸结合</text></g><g id="n66g"><text x="331.800" y="2801">推荐书籍</text></g><g id="n66g1"><text x="387" y="2801">《积极思考就是力量》</text></g>
<g id="c67"><text x="215.500" y="2824">第 67 章 构建一个积极的自我形象——规划你的大脑</text></g>
<g id="n67a"><text x="369.800" y="2813">什么是自我形象</text></g><g id="n67b"><text x="369.800" y="2824">自我形象是很难改变的</text></g><g id="n67c"><text x="369.800" y="2836">对你的大脑“重新编程”</text></g>
<g id="c68"><text x="215.500" y="2865">第 68 章 爱情与恋爱：计算机无法牵着你的手</text></g>
<g id="n68a"><text x="353.900" y="2847">为什么软件开发人员有时很难找到爱情</text></g><g id="n68b"><text x="353.900" y="2859">了解游戏规则</text></g><g id="n68c"><text x="353.900" y="2870">所以，我所要做的就是充满信心，对吧？</text></g><g id="n68d"><text x="353.900" y="2882">这就是一场数字游戏</text></g>
<g id="c69"><text x="215.500" y="2957">第 69 章 我的私房成功书单</text></g>
<g id="n69a"><text x="310" y="2922">自我提升和励志类图书</text></g>
<g id="n69a1"><text x="398" y="2894">《The War of Art》</text></g><g id="n69a2"><text x="398" y="2905">《人性的弱点》</text></g><g id="n69a3"><text x="398" y="2917">《思考致富》</text></g><g id="n69a4"><text x="398" y="2928">《心理控制方法》</text></g><g id="n69a5"><text x="398" y="2940">《积极思考就是力量》</text></g><g id="n69a6"><text x="398" y="2951">《阿特拉斯耸耸肩》</text></g>
<g id="n69b"><text x="310" y="2974">软件开发类图书</text></g>
<g id="n69b1"><text x="381.600" y="2963">《代码大全》</text></g><g id="n69b2"><text x="381.600" y="2975">《代码整洁之道》</text></g><g id="n69b3"><text x="381.600" y="2986">《Head First 设计模式》</text></g>
<g id="n69c"><text x="310" y="3009">投资类图书</text></g>
<g id="n69c1"><text x="370.600" y="2998">《The Millionaire Real Estate Investor》</text></g><g id="n69c2"><text x="370.600" y="3009">《穷爸爸，富爸爸》</text></g><g id="n69c3"><text x="370.600" y="3021">《No-Hype Options Trading：Myths,Realities,and Strategies That Really Work》</text></g>
<g id="c70"><text x="215.500" y="3050">第 70 章 积极面对失败</text></g>
<g id="n70a"><text x="300" y="3033">为什么我们总是害怕失败</text></g><g id="n70b"><text x="300" y="3044">失败并不是被打败</text></g><g id="n70c"><text x="300" y="3056">失败是通往成功的必经之路</text></g><g id="n70d"><text x="300" y="3067">学会拥抱失败</text></g>
<g id="c71"><text x="215.500" y="3079">第 71 章 结束语</text></g>
</svg>
